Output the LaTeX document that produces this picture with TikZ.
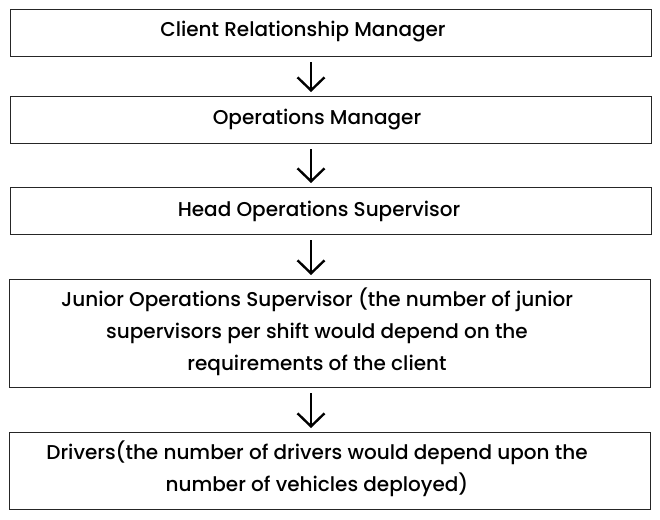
\documentclass[tikz,border=0pt]{standalone}
\usepackage{fontspec}
\setmainfont{Poppins}[UprightFont=* Medium]
\usetikzlibrary{arrows.meta}
\begin{document}
\begin{tikzpicture}[x=1pt,y=-1pt,
  box/.style={draw=black!85,line width=1.1pt,minimum width=641pt,inner sep=0pt,anchor=north west},
  txt/.style={font=\fontsize{20}{32}\selectfont,align=center,inner sep=0pt,text=black},
  arr/.style={line width=2.4pt,-{Straight Barb[length=13pt,width=27pt,line width=2.4pt]},shorten <=5pt,shorten >=4pt}]
\useasboundingbox (0,0) rectangle (660,519);
\fill[white] (0,0) rectangle (660,519);
\node[box,minimum height=47pt] (b1) at (9.5,9) {};
\node[box,minimum height=47pt] (b2) at (9.5,96) {};
\node[box,minimum height=47pt] (b3) at (9.5,187) {};
\node[box,minimum height=108pt] (b4) at (8.5,279) {};
\node[box,minimum height=77pt] (b5) at (8.5,432) {};
\node[txt] (t1) at (303,32) {Client Relationship Manager};
\node[txt] (t2) at (317,120) {Operations Manager};
\node[txt] (t3) at (319,211) {Head Operations Supervisor};
\node[txt] (t4) at (317,332) {Junior Operations Supervisor (the number of junior\\supervisors per shift would depend on the\\requirements of the client};
\node[txt] (t5) at (317,469) {Drivers(the number of drivers would depend upon the\\number of vehicles deployed)};
\coordinate (ax) at (311,0);
\draw[arr] (b1.south -| ax) -- (b2.north -| ax);
\draw[arr] (b2.south -| ax) -- (b3.north -| ax);
\draw[arr] (b3.south -| ax) -- (b4.north -| ax);
\draw[arr] (b4.south -| ax) -- (b5.north -| ax);
\end{tikzpicture}
\end{document}
